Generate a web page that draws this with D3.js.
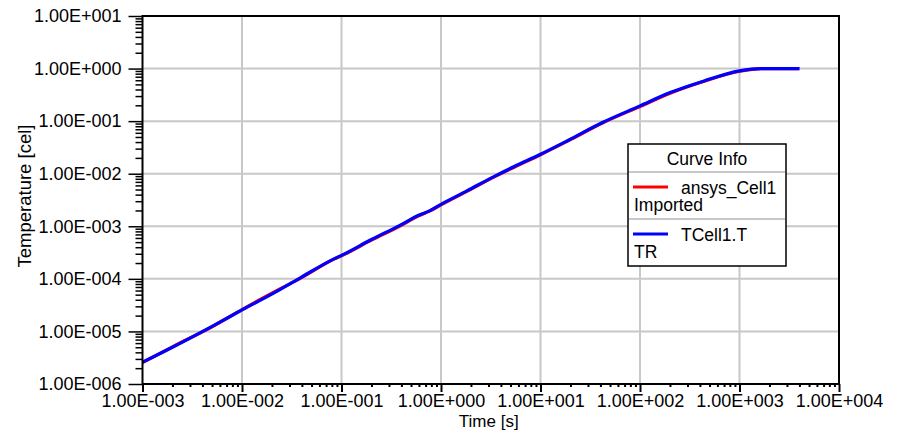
<!DOCTYPE html>
<html>
<head>
<meta charset="utf-8">
<script src="https://cdn.jsdelivr.net/npm/d3@7"></script>
<style>
  body { margin: 0; background: #fff; }
  text { font-family: "Liberation Sans", Arial, sans-serif; fill: #000; }
</style>
</head>
<body>
<svg id="chart"></svg>
<script>
const width = 902;
const height = 431;

// time points [s]
const timeS = [0.001, 0.002, 0.005, 0.01, 0.0243, 0.0389, 0.0851, 0.1, 0.202, 0.378,
  0.605, 0.766, 1, 1.82, 3.4, 5.45, 10, 19.1, 41.9, 100, 201, 441, 1000, 1640, 4000];

// TCell1.T TR (blue)
const tcellT = [2.6e-6, 5.0e-6, 1.25e-5, 2.56e-5, 6.3e-5, 1.06e-4, 2.43e-4, 2.8e-4, 5.66e-4, 1.02e-3,
  1.64e-3, 1.96e-3, 2.62e-3, 4.71e-3, 8.8e-3, 1.37e-2, 2.34e-2, 4.34e-2, 9.4e-2, 0.195,
  0.349, 0.582, 0.904, 1.0, 1.0];

// ansys_Cell1 Imported (red)
const ansysT = [2.55e-6, 5.1e-6, 1.22e-5, 2.6e-5, 6.5e-5, 1.03e-4, 2.4e-4, 2.75e-4, 5.5e-4, 0.99e-3,
  1.6e-3, 1.94e-3, 2.55e-3, 4.6e-3, 8.6e-3, 1.33e-2, 2.3e-2, 4.25e-2, 9.2e-2, 0.19,
  0.34, 0.575, 0.89, 1.0, 1.0];

const xTicks = [1e-3, 1e-2, 1e-1, 1e0, 1e1, 1e2, 1e3, 1e4];
const yTicks = [1e-6, 1e-5, 1e-4, 1e-3, 1e-2, 1e-1, 1e0, 1e1];

const legendItems = [
  { line1: "ansys_Cell1", line2: "Imported", color: "#ff0000" },
  { line1: "TCell1.T", line2: "TR", color: "#0000ff" }
];

const margin = { top: 16, right: 63, bottom: 47, left: 142.5 };
const plotW = width - margin.left - margin.right;
const plotH = height - margin.top - margin.bottom;

const svg = d3.select("#chart")
  .attr("width", width)
  .attr("height", height);

const x = d3.scaleLog().domain([1e-3, 1e4]).range([margin.left, margin.left + plotW]);
const y = d3.scaleLog().domain([1e-6, 1e1]).range([margin.top + plotH, margin.top]);

// 1.00E-003 style labels
function sciFmt(v) {
  const e = Math.round(Math.log10(v));
  const sign = e < 0 ? "-" : "+";
  return "1.00E" + sign + String(Math.abs(e)).padStart(3, "0");
}

// minor tick values 2..9 per decade
function minors(ticks) {
  const out = [];
  for (let i = 0; i < ticks.length - 1; i++) {
    for (let k = 2; k <= 9; k++) out.push(ticks[i] * k);
  }
  return out;
}

// grid
svg.append("g")
  .selectAll("line")
  .data(xTicks.slice(1, -1))
  .join("line")
  .attr("x1", d => x(d)).attr("x2", d => x(d))
  .attr("y1", margin.top).attr("y2", margin.top + plotH)
  .attr("stroke", "#c8c8c8").attr("stroke-width", 2);

svg.append("g")
  .selectAll("line")
  .data(yTicks.slice(1, -1))
  .join("line")
  .attr("x1", margin.left).attr("x2", margin.left + plotW)
  .attr("y1", d => y(d)).attr("y2", d => y(d))
  .attr("stroke", "#c8c8c8").attr("stroke-width", 2);

// curves
const line = d3.line()
  .x(d => x(d[0]))
  .y(d => y(d[1]))
  .curve(d3.curveMonotoneX);

svg.append("path")
  .datum(timeS.map((t, i) => [t, ansysT[i]]))
  .attr("d", line)
  .attr("fill", "none")
  .attr("stroke", "#ff0000")
  .attr("stroke-width", 3.2);

svg.append("path")
  .datum(timeS.map((t, i) => [t, tcellT[i]]))
  .attr("d", line)
  .attr("fill", "none")
  .attr("stroke", "#0000ff")
  .attr("stroke-width", 3.2);

// frame
svg.append("rect")
  .attr("x", margin.left).attr("y", margin.top)
  .attr("width", plotW).attr("height", plotH)
  .attr("fill", "none").attr("stroke", "#000").attr("stroke-width", 2);

// x axis
const xAxis = svg.append("g")
  .attr("transform", `translate(0, ${margin.top + plotH})`);
xAxis.call(d3.axisBottom(x).tickValues(minors(xTicks)).tickSize(3).tickFormat(""));
xAxis.append("g").call(d3.axisBottom(x).tickValues(xTicks).tickSize(8).tickPadding(2).tickFormat(sciFmt));
xAxis.selectAll(".domain").remove();
xAxis.selectAll("line").attr("stroke", "#000").attr("stroke-width", 2);
xAxis.selectAll("text").attr("font-size", 18).attr("font-family", "Liberation Sans, Arial, sans-serif");

// y axis
const yAxis = svg.append("g")
  .attr("transform", `translate(${margin.left}, 0)`);
yAxis.call(d3.axisLeft(y).tickValues(minors(yTicks)).tickSize(7).tickFormat(""));
yAxis.append("g").call(d3.axisLeft(y).tickValues(yTicks).tickSize(14).tickPadding(7).tickFormat(sciFmt));
yAxis.selectAll(".domain").remove();
yAxis.selectAll("line").attr("stroke", "#000").attr("stroke-width", 1.5);
yAxis.selectAll("text").attr("font-size", 18).attr("font-family", "Liberation Sans, Arial, sans-serif");

// axis titles
svg.append("text")
  .attr("x", margin.left + plotW / 2 - 2)
  .attr("y", 427)
  .attr("text-anchor", "middle")
  .attr("font-size", 17)
  .text("Time [s]");

svg.append("text")
  .attr("transform", `translate(31, ${margin.top + plotH / 2 - 4}) rotate(-90)`)
  .attr("text-anchor", "middle")
  .attr("font-size", 18.5)
  .text("Temperature [cel]");

// legend
const lg = svg.append("g").attr("transform", "translate(628, 144)");
lg.append("rect")
  .attr("width", 158).attr("height", 122)
  .attr("fill", "#fff").attr("stroke", "#000").attr("stroke-width", 1.5);
lg.append("text")
  .attr("x", 79).attr("y", 21)
  .attr("text-anchor", "middle")
  .attr("font-size", 17.5)
  .text("Curve Info");

legendItems.forEach((item, i) => {
  const top = 28 + i * 47;
  lg.append("line")
    .attr("x1", 1).attr("x2", 157)
    .attr("y1", top).attr("y2", top)
    .attr("stroke", "#c8c8c8").attr("stroke-width", 2);
  lg.append("line")
    .attr("x1", 5).attr("x2", 40)
    .attr("y1", top + 15).attr("y2", top + 15)
    .attr("stroke", item.color).attr("stroke-width", 3);
  lg.append("text")
    .attr("x", 53).attr("y", top + 22)
    .attr("font-size", 17.5)
    .text(item.line1);
  lg.append("text")
    .attr("x", 6).attr("y", top + 39)
    .attr("font-size", 17.5)
    .text(item.line2);
});
</script>
</body>
</html>
